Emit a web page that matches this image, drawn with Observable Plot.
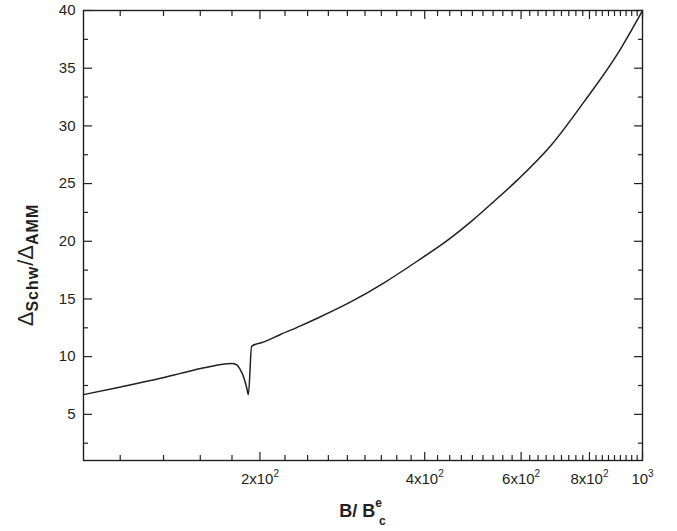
<!DOCTYPE html>
<html>
<head>
<meta charset="utf-8">
<script src="https://cdn.jsdelivr.net/npm/d3@7"></script>
<script src="https://cdn.jsdelivr.net/npm/@observablehq/plot@0.6"></script>
<style>
  html, body { margin: 0; padding: 0; background: #fff; }
  #chart { width: 677px; height: 531px; }
</style>
</head>
<body>
<div id="chart"></div>
<script>
// Curve data (x = B/B_c^e, y = Δ_Schw/Δ_AMM)
const bField = [95.2, 111.3, 131.6, 143.2, 155.8, 162.5, 169.6, 177.5, 181.3, 183.8, 187.0, 189.2, 190.5,
                193.1, 203.4, 218, 237.3, 254.6, 293.0, 337.1, 388.0, 446.4, 485.5, 535.8, 591.2, 680.2, 782.3, 900.2, 1000];
const ratio  = [6.71, 7.37, 8.12, 8.55, 8.98, 9.15, 9.31, 9.40, 9.30, 8.95, 8.15, 7.28, 6.71,
                10.9, 11.28, 11.92, 12.67, 13.33, 14.74, 16.40, 18.29, 20.30, 21.68, 23.47, 25.32, 28.3, 32.1, 36.24, 40];

// Axis ticks
const xMajorTicks = [200, 400, 600, 800, 1000];
const xMajorLabels = ["2x10\u00B2", "4x10\u00B2", "6x10\u00B2", "8x10\u00B2", "10\u00B3"];
const xMinorTicks = [111.1, 133.3, 155.6, 177.8,
                     222.2, 244.4, 266.7, 288.9, 311.1, 333.3, 355.6, 377.8,
                     422.2, 444.4, 466.7, 488.9, 511.1, 533.3, 555.6, 577.8,
                     622.2, 644.4, 666.7, 688.9, 711.1, 733.3, 755.6, 777.8,
                     822.2, 844.4, 866.7, 888.9, 911.1, 933.3, 955.6, 977.8];
const yMajorTicks = [5, 10, 15, 20, 25, 30, 35, 40];
const yMinorTicks = [2.5, 7.5, 12.5, 17.5, 22.5, 27.5, 32.5, 37.5];

const data = bField.map((b, i) => ({b, r: ratio[i]}));
const ink = "#231f20";
const xLabel = (d) => xMajorLabels[xMajorTicks.indexOf(d)];
const blank = () => "";
const font = "'Liberation Sans', Arial, sans-serif";

const plot = Plot.plot({
  width: 677,
  height: 531,
  marginLeft: 83,
  marginRight: 35,
  marginTop: 10,
  marginBottom: 71,
  style: {fontFamily: font, fontSize: "15px", color: ink, background: "#fff"},
  x: {type: "log", domain: [95.2, 1000]},
  y: {domain: [1, 40]},
  marks: [
    Plot.axisX({anchor: "bottom", ticks: xMajorTicks, tickSize: -8, tickPadding: 21, tickFormat: xLabel, label: null, strokeWidth: 1.2, fontSize: 15}),
    Plot.axisX({anchor: "bottom", ticks: xMinorTicks, tickSize: -5, tickFormat: blank, label: null, strokeWidth: 1.2}),
    Plot.axisX({anchor: "top", ticks: xMajorTicks, tickSize: -8, tickFormat: blank, label: null, strokeWidth: 1.2}),
    Plot.axisX({anchor: "top", ticks: xMinorTicks, tickSize: -5, tickFormat: blank, label: null, strokeWidth: 1.2}),
    Plot.axisY({anchor: "left", ticks: yMajorTicks, tickSize: -9, tickPadding: 17, label: null, strokeWidth: 1.2, fontSize: 15}),
    Plot.axisY({anchor: "left", ticks: yMinorTicks, tickSize: -5, tickFormat: blank, label: null, strokeWidth: 1.2}),
    Plot.axisY({anchor: "right", ticks: yMajorTicks, tickSize: -9, tickFormat: blank, label: null, strokeWidth: 1.2}),
    Plot.axisY({anchor: "right", ticks: yMinorTicks, tickSize: -5, tickFormat: blank, label: null, strokeWidth: 1.2}),
    Plot.frame({stroke: ink, strokeWidth: 1.4}),
    Plot.line(data, {x: "b", y: "r", stroke: ink, strokeWidth: 1.5, curve: "monotone-x"})
  ]
});

document.getElementById("chart").appendChild(plot);

const svg = d3.select(plot);
// make sure tick labels use the intended size
svg.selectAll("g[aria-label$='tick label']").attr("font-size", 15).style("font-size", "15px");

// render the exponent of the x tick labels as a raised superscript
const supMap = {"\u00B2": "2", "\u00B3": "3"};
svg.selectAll("g[aria-label='x-axis tick label'] text").each(function () {
  const t = d3.select(this);
  const s = t.text();
  const last = s.slice(-1);
  if (!supMap[last]) return;
  t.text(null);
  t.append("tspan").text(s.slice(0, -1));
  t.append("tspan").attr("dy", -7).attr("font-size", 10).style("font-size", "10px").text(supMap[last]);
});

// Axis titles with sub/superscripts
const xs = plot.scale("x").range;
const ys = plot.scale("y").range;
const xMid = (xs[0] + xs[1]) / 2;
const yMid = (ys[0] + ys[1]) / 2 + 30;

const xt = svg.append("text")
  .attr("x", xMid).attr("y", 517)
  .attr("text-anchor", "middle")
  .attr("font-family", font)
  .attr("font-weight", "bold")
  .attr("font-size", 18)
  .attr("fill", ink);
xt.append("tspan").text("B/ B");
xt.append("tspan").attr("font-size", 12).attr("dy", -10).text("e");
xt.append("tspan").attr("font-size", 12).attr("dx", -3).attr("dy", 18).text("c");

const yt = svg.append("text")
  .attr("transform", `translate(33,${yMid}) rotate(-90)`)
  .attr("text-anchor", "middle")
  .attr("font-family", font)
  .attr("font-size", 22)
  .attr("fill", ink);
yt.append("tspan").text("\u0394");
yt.append("tspan").attr("font-size", 16).attr("font-weight", "bold").attr("letter-spacing", 1).attr("dy", 5).text("Schw");
yt.append("tspan").attr("font-size", 22).attr("dy", -5).text("/\u0394");
yt.append("tspan").attr("font-size", 16).attr("font-weight", "bold").attr("letter-spacing", 1).attr("dy", 5).text("AMM");
</script>
</body>
</html>
